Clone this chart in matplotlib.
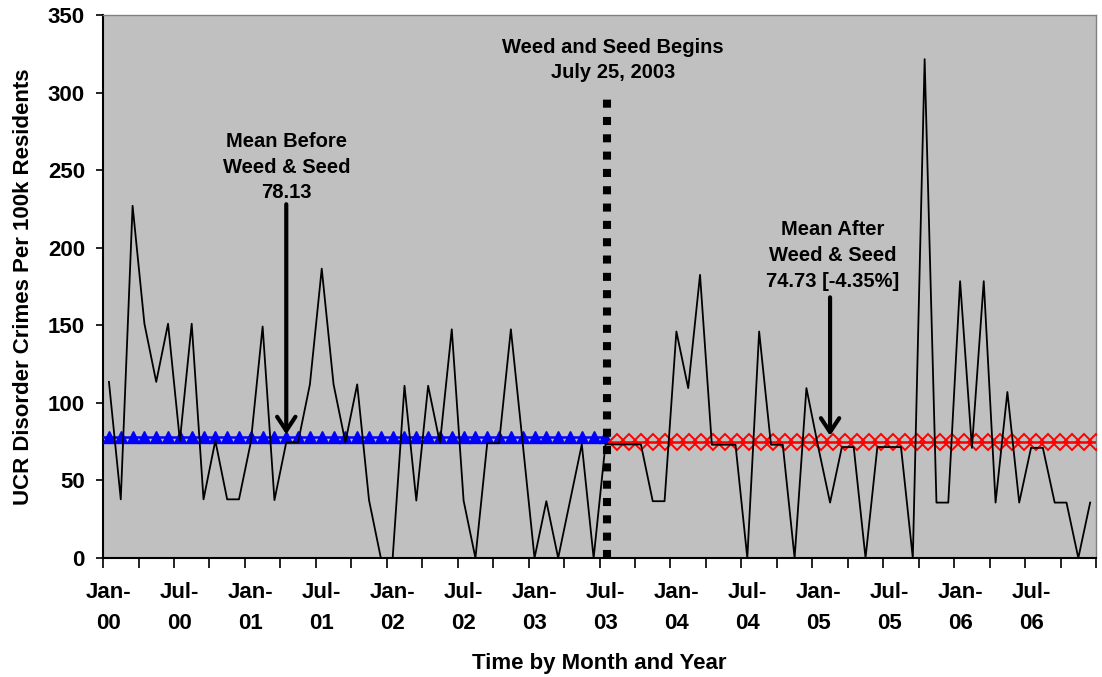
import numpy as np
import matplotlib
matplotlib.use('Agg')
import matplotlib.pyplot as plt

plt.rcParams['font.family'] = ['Liberation Sans', 'DejaVu Sans']
plt.rcParams['font.weight'] = 'bold'

# monthly UCR disorder crimes per 100k residents, Jan 2000 - Dec 2006
rate_2000 = [113.5, 37.8, 227.0, 151.0, 113.5, 151.0, 75.6, 151.0, 37.8, 75.6, 37.8, 37.8]
rate_2001 = [74.6, 149.2, 37.3, 74.6, 74.6, 111.9, 186.5, 111.9, 74.6, 111.9, 37.3, 0.0]
rate_2002 = [0.0, 111.0, 37.0, 111.0, 74.0, 147.4, 37.0, 0.0, 74.0, 74.0, 147.4, 74.0]
rate_2003 = [0.0, 36.6, 0.0, 36.6, 73.2, 0.0, 73.2, 73.2, 73.2, 73.2, 36.6, 36.6]
rate_2004 = [146.0, 109.5, 182.5, 73.0, 73.0, 73.0, 0.0, 146.0, 73.0, 73.0, 0.0, 109.5]
rate_2005 = [71.5, 35.7, 71.5, 71.5, 0.0, 71.5, 71.5, 71.5, 0.0, 321.5, 35.7, 35.7]
rate_2006 = [178.4, 71.0, 178.4, 35.7, 107.0, 35.7, 71.0, 71.0, 35.7, 35.7, 0.0, 35.7]

years = ['00', '01', '02', '03', '04', '05', '06']
month_names = ['Jan', 'Feb', 'Mar', 'Apr', 'May', 'Jun',
               'Jul', 'Aug', 'Sep', 'Oct', 'Nov', 'Dec']
months = [m + '-' + y for y in years for m in month_names]

rates = rate_2000 + rate_2001 + rate_2002 + rate_2003 + rate_2004 + rate_2005 + rate_2006

mean_before = 78.13
mean_after = 74.73
pct_change = -4.35
start_label = 'Jul-03'

x = np.arange(len(months))
start_idx = months.index(start_label)
n_before = start_idx + 1
n_after = len(months) - n_before

fig = plt.figure(figsize=(11.02, 6.77), dpi=100)
ax = fig.add_axes([0.0935, 0.1758, 0.9011, 0.8021])
ax.set_facecolor('#C0C0C0')

# mean lines before / after the program start
ax.plot([-0.5, start_idx], [mean_before, mean_before], color='#0000FF', lw=1.8, zorder=3)
ax.plot(x[:n_before], [mean_before] * n_before, ls='none', marker='^', ms=8.5,
        color='#0000FF', zorder=3)
ax.plot([start_idx + 0.5, len(months) - 0.5], [mean_after, mean_after],
        color='#FF0000', lw=1.8, zorder=3)
ax.plot(np.linspace(start_idx + 1, len(months) - 0.5, n_after), [mean_after] * n_after,
        ls='none', marker='D', ms=8, mfc='none', mec='#FF0000', mew=1.4, zorder=3)

# monthly series
ax.plot(x, rates, color='black', lw=1.3, zorder=4)

# program start marker
event_x = start_idx + 0.1
ax.plot([event_x, event_x], [0, 300], color='black', lw=5.8, ls=(0, (1.0, 1.15)),
        solid_capstyle='butt', dash_capstyle='butt', zorder=5, clip_on=False)
ax.text(start_idx + 0.65, 321, 'Weed and Seed Begins\nJuly 25, 2003', ha='center',
        va='center', fontsize=14.5, fontweight='bold', linespacing=1.45)

# annotations for the two means
ax.text(15, 252, 'Mean Before\nWeed & Seed\n%.2f' % mean_before, ha='center',
        va='center', fontsize=14.5, fontweight='bold', linespacing=1.45)
ax.annotate('', xy=(15, mean_before + 1.5), xytext=(15, 228),
            arrowprops=dict(arrowstyle='->,head_length=0.5,head_width=0.33',
                            lw=3, color='black', mutation_scale=20, shrinkA=0, shrinkB=0))
ax.text(61.25, 195, 'Mean After\nWeed & Seed\n%.2f [%.2f%%]' % (mean_after, pct_change),
        ha='center', va='center', fontsize=14.5, fontweight='bold', linespacing=1.45)
ax.annotate('', xy=(61, mean_after + 4), xytext=(61, 168),
            arrowprops=dict(arrowstyle='->,head_length=0.5,head_width=0.33',
                            lw=3, color='black', mutation_scale=20, shrinkA=0, shrinkB=0))

ax.set_xlim(-0.5, len(months) - 0.5)
ax.set_ylim(0, 350)
ax.set_yticks(np.arange(0, 351, 50))
ax.set_xticks(np.arange(-0.5, len(months), 3))
ax.set_xticklabels([])
ax.set_xticks(x[::6], minor=True)
ax.set_xticklabels([m.replace('-', '-\n') for m in months[::6]], minor=True)
ax.tick_params(axis='x', which='major', length=7, width=1.2, direction='out')
ax.tick_params(axis='x', which='minor', length=0, pad=17, labelsize=16)
ax.tick_params(axis='y', length=5, width=1.2, pad=8, labelsize=16)
for lab in ax.get_xticklabels(minor=True):
    lab.set_linespacing(1.65)
    lab.set_fontweight('bold')
for lab in ax.get_yticklabels():
    lab.set_fontweight('bold')

ax.spines['left'].set_linewidth(1.5)
ax.spines['bottom'].set_linewidth(1.5)
ax.spines['top'].set_color('#808080')
ax.spines['right'].set_color('#808080')
ax.spines['top'].set_linewidth(1)
ax.spines['right'].set_linewidth(1)

ax.set_xlabel('Time by Month and Year', fontsize=16, fontweight='bold', labelpad=14)
ax.set_ylabel('UCR Disorder Crimes Per 100k Residents', fontsize=16, fontweight='bold',
              labelpad=10)

fig.savefig('out.png', dpi=100)
